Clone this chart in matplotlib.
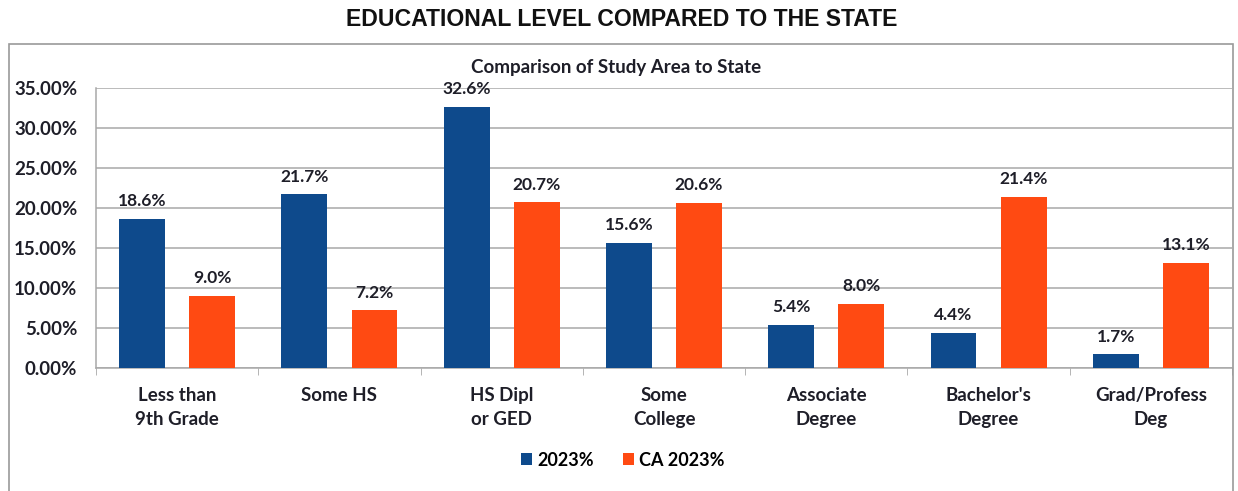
import numpy as np
import matplotlib
matplotlib.use("Agg")
import matplotlib.pyplot as plt
from matplotlib.patches import Rectangle

categories = ["Less than\n9th Grade", "Some HS", "HS Dipl\nor GED", "Some\nCollege",
              "Associate\nDegree", "Bachelor's\nDegree", "Grad/Profess\nDeg"]
area_2023 = [18.6, 21.7, 32.6, 15.6, 5.4, 4.4, 1.7]
ca_2023 = [9.0, 7.2, 20.7, 20.6, 8.0, 21.4, 13.1]
series_names = ["2023%", "CA 2023%"]

BLUE = "#0e4a8c"
ORANGE = "#ff4a12"
TEXT = "#1e1e28"
GRID = "#a8a8a8"

plt.rcParams["font.family"] = ["Lato", "DejaVu Sans"]
plt.rcParams["font.weight"] = "bold"

W, H = 1238, 491
fig = plt.figure(figsize=(W / 100, H / 100), dpi=100)
fig.patch.set_facecolor("white")

# outer chart frame
fig.patches.append(Rectangle((9 / W, -0.05), (1233 - 9) / W, (H - 44) / H + 0.05,
                             transform=fig.transFigure, fill=False,
                             edgecolor="#9a9a9a", lw=1.2))

fig.text(622 / W, 1 - 19 / H, "EDUCATIONAL LEVEL COMPARED TO THE STATE",
         ha="center", va="center", fontsize=16.6, fontweight="bold",
         family=["Liberation Sans", "DejaVu Sans"], color="#111111")
fig.text(616 / W, 1 - 68 / H, "Comparison of Study Area to State",
         ha="center", va="center", fontsize=13.5, fontweight="bold", color=TEXT)

ax = fig.add_axes([96 / W, (H - 368) / H, (1232 - 96) / W, (368 - 88) / H])
x = np.arange(len(categories))
bw = 0.283
off = 0.216
b1 = ax.bar(x - off, area_2023, bw, color=BLUE, label=series_names[0], zorder=3)
b2 = ax.bar(x + off, ca_2023, bw, color=ORANGE, label=series_names[1], zorder=3)

for bars, vals in ((b1, area_2023), (b2, ca_2023)):
    for r, v in zip(bars, vals):
        ax.annotate(f"{v:.1f}%", (r.get_x() + r.get_width() / 2, v),
                    xytext=(0, 7), textcoords="offset points",
                    ha="center", va="bottom", fontsize=12.5,
                    fontweight="bold", color=TEXT)

ax.set_xlim(-0.5, len(categories) - 0.5)
ax.set_ylim(0, 35)
ax.set_yticks(np.arange(0, 36, 5))
ax.set_yticklabels([f"{t:.2f}%" for t in np.arange(0, 36, 5)])
ax.yaxis.grid(True, color=GRID, lw=1.1, zorder=0)
ax.tick_params(axis="y", length=0, pad=13.5, labelsize=13.5, labelcolor=TEXT)

ax.set_xticks(x)
ax.set_xticklabels(categories, fontsize=13.5, color=TEXT, linespacing=1.5)
ax.tick_params(axis="x", length=0, pad=14)
ax.set_xticks(np.arange(-0.5, len(categories), 1), minor=True)
ax.tick_params(axis="x", which="minor", length=5, color=GRID)

for s in ("top", "right"):
    ax.spines[s].set_visible(False)
for s in ("left", "bottom"):
    ax.spines[s].set_color(GRID)
    ax.spines[s].set_linewidth(1.1)

fig.legend(handles=[b1, b2], loc="center", bbox_to_anchor=(623 / W, 1 - 460 / H),
           ncol=2, frameon=False, handlelength=0.6,
           handleheight=0.6, handletextpad=0.3, columnspacing=1.6,
           prop={"weight": "bold", "size": 13})

fig.savefig("out.png", dpi=100)
